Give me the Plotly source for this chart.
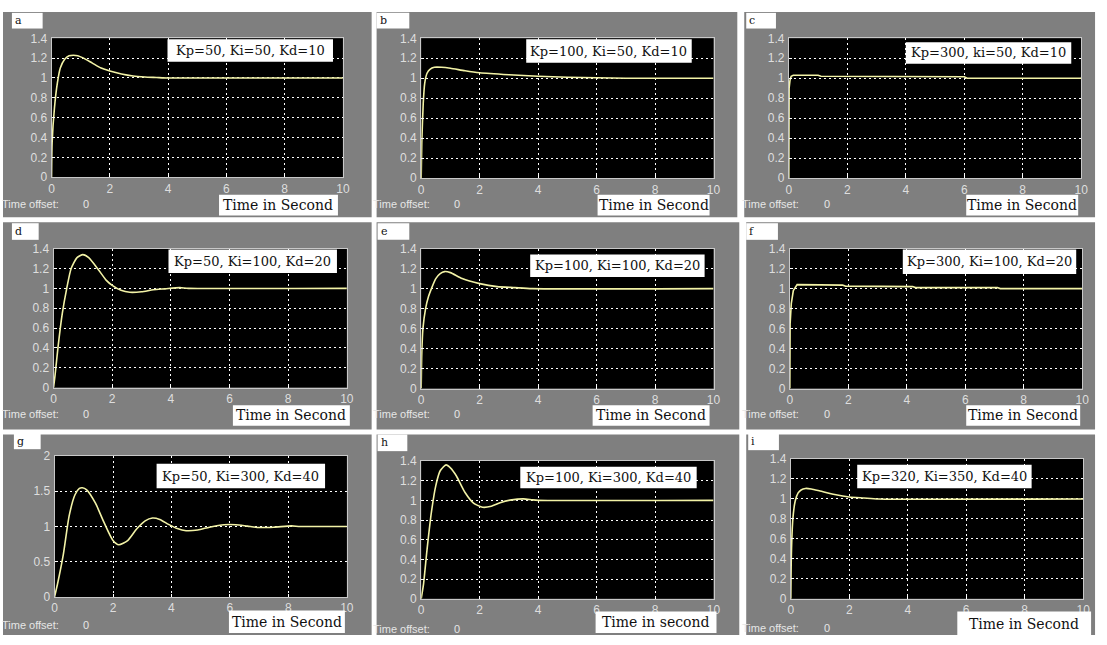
import plotly.graph_objects as go

W, H = 1107, 645

# ---------------- data ----------------
panel_letters = ["a", "b", "c", "d", "e", "f", "g", "h", "i"]
gain_labels = [
    "Kp=50, Ki=50, Kd=10", "Kp=100, Ki=50, Kd=10", "Kp=300, ki=50, Kd=10",
    "Kp=50, Ki=100, Kd=20", "Kp=100, Ki=100, Kd=20", "Kp=300, Ki=100, Kd=20",
    "Kp=50, Ki=300, Kd=40", "Kp=100, Ki=300, Kd=40", "Kp=320, Ki=350, Kd=40",
]
xlabel_texts = ["Time in Second"] * 7 + ["Time in second", "Time in Second"]
offset_text = "Time offset:"
offset_value = "0"

x_ticks = [0, 2, 4, 6, 8, 10]
y_ticks_std = [0, 0.2, 0.4, 0.6, 0.8, 1, 1.2, 1.4]
y_ticks_g = [0, 0.5, 1, 1.5, 2]

a_t = [0, 0.02, 0.1, 0.2, 0.3, 0.45, 0.6, 0.75, 0.9, 1.1, 1.4, 1.7, 2.0, 2.4, 2.8, 3.2, 3.6, 4.0, 10]
a_y = [0, 0.35, 0.7, 0.95, 1.1, 1.19, 1.225, 1.23, 1.225, 1.2, 1.15, 1.1, 1.07, 1.04, 1.02, 1.01, 1.005, 1.0, 1.0]

b_t = [0, 0.02, 0.07, 0.12, 0.2, 0.3, 0.45, 0.7, 1.0, 1.5, 2.0, 3.0, 4.0, 5.0, 6.0, 7.0, 10]
b_y = [0, 0.35, 0.75, 0.95, 1.05, 1.09, 1.11, 1.11, 1.1, 1.075, 1.055, 1.035, 1.02, 1.01, 1.005, 1.0, 1.0]

c_t = [0, 0.01, 0.04, 0.08, 0.15, 1.0, 1.1, 3.0, 3.1, 6.0, 6.1, 10]
c_y = [0, 0.9, 0.98, 1.02, 1.03, 1.03, 1.02, 1.02, 1.015, 1.015, 1.0, 1.0]

d_t = [0, 0.05, 0.15, 0.3, 0.45, 0.6, 0.8, 1.0, 1.2, 1.5, 1.8, 2.0, 2.3, 2.6, 3.0, 3.4, 3.8, 4.3, 4.6, 10]
d_y = [0, 0.12, 0.4, 0.75, 1.0, 1.2, 1.31, 1.34, 1.31, 1.2, 1.08, 1.03, 0.98, 0.96, 0.965, 0.985, 0.995, 1.007, 1.0, 1.0]

e_t = [0, 0.02, 0.06, 0.15, 0.25, 0.35, 0.5, 0.65, 0.8, 1.0, 1.4, 2.0, 2.6, 3.2, 3.8, 10]
e_y = [0, 0.35, 0.6, 0.8, 0.92, 1.0, 1.1, 1.15, 1.17, 1.16, 1.1, 1.05, 1.02, 1.01, 1.0, 1.0]

f_t = [0, 0.01, 0.05, 0.12, 0.25, 1.1, 1.2, 1.8, 1.9, 2.8, 2.9, 4.2, 4.3, 7.1, 7.2, 10]
f_y = [0, 0.65, 0.85, 0.98, 1.04, 1.04, 1.035, 1.035, 1.025, 1.025, 1.02, 1.02, 1.01, 1.01, 1.0, 1.0]

g_t = [0, 0.1, 0.3, 0.5, 0.7, 0.85, 0.95, 1.1, 1.4, 1.7, 2.0, 2.2, 2.5, 2.8, 3.1, 3.35, 3.6, 3.9,
       4.2, 4.5, 4.9, 5.3, 5.8, 6.2, 6.6, 7.0, 7.5, 8.1, 8.4, 10]
g_y = [0, 0.18, 0.6, 1.15, 1.45, 1.54, 1.55, 1.52, 1.33, 1.05, 0.8, 0.74, 0.8, 0.96, 1.08, 1.12, 1.1, 1.03,
       0.97, 0.94, 0.95, 0.99, 1.025, 1.025, 1.005, 0.985, 0.99, 1.008, 1.0, 1.0]

h_t = [0, 0.08, 0.2, 0.35, 0.5, 0.65, 0.85, 1.0, 1.2, 1.5, 1.8, 2.1, 2.4, 2.7, 3.1, 3.5, 3.8, 4.0, 10]
h_y = [0, 0.15, 0.5, 0.88, 1.15, 1.3, 1.36, 1.33, 1.25, 1.08, 0.97, 0.93, 0.94, 0.975, 1.005, 1.015, 1.005, 1.0, 1.0]

i_t = [0, 0.02, 0.07, 0.15, 0.25, 0.35, 0.5, 0.7, 1.0, 1.5, 2.0, 2.5, 3.0, 10]
i_y = [0, 0.45, 0.8, 0.98, 1.06, 1.09, 1.105, 1.1, 1.08, 1.045, 1.02, 1.01, 1.0, 1.0]

series_t = [a_t, b_t, c_t, d_t, e_t, f_t, g_t, h_t, i_t]
series_y = [a_y, b_y, c_y, d_y, e_y, f_y, g_y, h_y, i_y]

# ---------------- layout geometry (pixels) ----------------
gray_boxes = [
    (0, 5, 372, 215), (377, 5, 741, 215), (748, 5, 1102, 215),
    (0, 220, 372, 432), (377, 220, 743, 432), (750, 220, 1102, 432),
    (0, 437, 372, 642), (377, 437, 743, 642), (750, 437, 1102, 642),
]
plot_boxes = [
    (49, 32, 343, 174), (422, 32, 717, 175), (793, 32, 1088, 175),
    (51, 247, 347, 389), (422, 247, 717, 390), (794, 247, 1089, 390),
    (52, 459, 347, 603), (422, 464, 717, 605), (795, 462, 1090, 605),
]
gain_boxes = [
    (166, 33, 333, 56), (528, 33, 695, 57), (911, 36, 1078, 58),
    (167, 248, 337, 272), (532, 253, 708, 276), (908, 248, 1083, 273),
    (155, 467, 325, 492), (522, 470, 700, 492), (862, 468, 1038, 492),
]
xlabel_boxes = [
    (218, 192, 338, 213), (600, 192, 713, 213), (972, 192, 1085, 213),
    (232, 407, 350, 428), (595, 407, 713, 428), (972, 407, 1087, 428),
    (228, 617, 345, 640), (598, 618, 720, 640), (963, 618, 1098, 644),
]
letter_boxes = [
    (9, 6, 40, 22), (377, 6, 410, 22), (750, 6, 780, 22),
    (9, 221, 36, 238), (378, 221, 410, 238), (750, 221, 782, 238),
    (11, 436, 38, 452), (378, 437, 408, 454), (752, 436, 783, 453),
]
offset_pos = [
    (-3, 201), (371, 201), (744, 201),
    (-3, 416), (371, 416), (744, 416),
    (-3, 632), (371, 636), (744, 635),
]

BG_GRAY = "#7f7f7f"
LINE_COL = "#f2f2a6"
TICK_COL = "#dedede"


def px(x):
    return x / W


def py(y):
    return 1 - y / H


fig = go.Figure()
shapes = []
annotations = []

for k in range(9):
    n = "" if k == 0 else str(k + 1)
    gx0, gy0, gx1, gy1 = gray_boxes[k]
    shapes.append(dict(type="rect", xref="paper", yref="paper", layer="below",
                       x0=px(gx0), x1=px(gx1), y0=py(gy1), y1=py(gy0),
                       fillcolor=BG_GRAY, line=dict(width=0)))
    p0, q0, p1, q1 = plot_boxes[k]
    shapes.append(dict(type="rect", xref="paper", yref="paper", layer="below",
                       x0=px(p0), x1=px(p1), y0=py(q1), y1=py(q0),
                       fillcolor="#000000", line=dict(width=0)))
    is_g = panel_letters[k] == "g"
    yt = y_ticks_g if is_g else y_ticks_std
    fig.add_trace(go.Scatter(
        x=series_t[k], y=series_y[k], mode="lines",
        line=dict(color=LINE_COL, width=1.6,
                  shape="linear" if panel_letters[k] in ("c", "f") else "spline",
                  smoothing=0.6),
        xaxis="x" + n, yaxis="y" + n, showlegend=False, hoverinfo="skip"))
    axis_common = dict(showgrid=True, gridcolor="#ffffff", griddash="2px,3px", gridwidth=1,
                       zeroline=False, showline=True, mirror=True, linecolor="#c8c8c8",
                       linewidth=1, ticks="inside", ticklen=3, tickcolor="#ffffff",
                       tickfont=dict(family="Liberation Sans, Arial, sans-serif", size=12, color=TICK_COL),
                       fixedrange=True)
    fig.layout["xaxis" + n] = dict(domain=[px(p0), px(p1)], range=[0, 10], tickvals=x_ticks,
                                   anchor="y" + n, ticklabelstandoff=0, **axis_common)
    fig.layout["yaxis" + n] = dict(domain=[py(q1), py(q0)], range=[0, yt[-1]], tickvals=yt,
                                   anchor="x" + n, ticklabelstandoff=1, **axis_common)

    # white boxes
    for box in (gain_boxes[k], xlabel_boxes[k], letter_boxes[k]):
        bx0, by0, bx1, by1 = box
        shapes.append(dict(type="rect", xref="paper", yref="paper", layer="above",
                           x0=px(bx0), x1=px(bx1), y0=py(by1), y1=py(by0),
                           fillcolor="#ffffff", line=dict(width=0)))
    bx0, by0, bx1, by1 = gain_boxes[k]
    annotations.append(dict(xref="paper", yref="paper", x=px((bx0 + bx1) / 2), y=py((by0 + by1) / 2),
                            text=gain_labels[k], showarrow=False, xanchor="center", yanchor="middle",
                            font=dict(family="DejaVu Serif, serif", size=13, color="#111111")))
    bx0, by0, bx1, by1 = xlabel_boxes[k]
    annotations.append(dict(xref="paper", yref="paper", x=px((bx0 + bx1) / 2), y=py((by0 + by1) / 2),
                            text=xlabel_texts[k], showarrow=False, xanchor="center", yanchor="middle",
                            font=dict(family="DejaVu Serif, serif", size=14, color="#111111")))
    bx0, by0, bx1, by1 = letter_boxes[k]
    annotations.append(dict(xref="paper", yref="paper", x=px(bx0 + 1), y=py((by0 + by1) / 2),
                            text=panel_letters[k], showarrow=False, xanchor="left", yanchor="middle",
                            font=dict(family="DejaVu Serif, serif", size=11, color="#111111")))
    ox, oy = offset_pos[k]
    annotations.append(dict(xref="paper", yref="paper", x=px(ox), y=py(oy),
                            text=offset_text, showarrow=False, xanchor="left", yanchor="middle",
                            font=dict(family="Liberation Sans, Arial, sans-serif", size=11, color="#e6e6e6")))
    annotations.append(dict(xref="paper", yref="paper", x=px(ox + 82), y=py(oy),
                            text=offset_value, showarrow=False, xanchor="left", yanchor="middle",
                            font=dict(family="Liberation Sans, Arial, sans-serif", size=11, color="#e6e6e6")))

fig.update_layout(width=W, height=H, autosize=False,
                  margin=dict(l=0, r=0, t=0, b=0, pad=0),
                  paper_bgcolor="#ffffff", plot_bgcolor="#000000",
                  shapes=shapes, annotations=annotations, showlegend=False)

post_js = (
    "document.documentElement.style.margin='0';"
    "document.documentElement.style.overflow='hidden';"
    "document.body.style.margin='0';document.body.style.padding='0';"
    "document.body.style.overflow='hidden';"
    "var gd=document.getElementById('{plot_id}');"
    "gd.style.display='block';"
    "gd.parentElement.style.height='645px';gd.parentElement.style.width='1107px';"
    "gd.parentElement.style.overflow='hidden';gd.parentElement.style.lineHeight='0';"
)
fig.write_html("out.html", config={"displayModeBar": False}, post_script=post_js)
